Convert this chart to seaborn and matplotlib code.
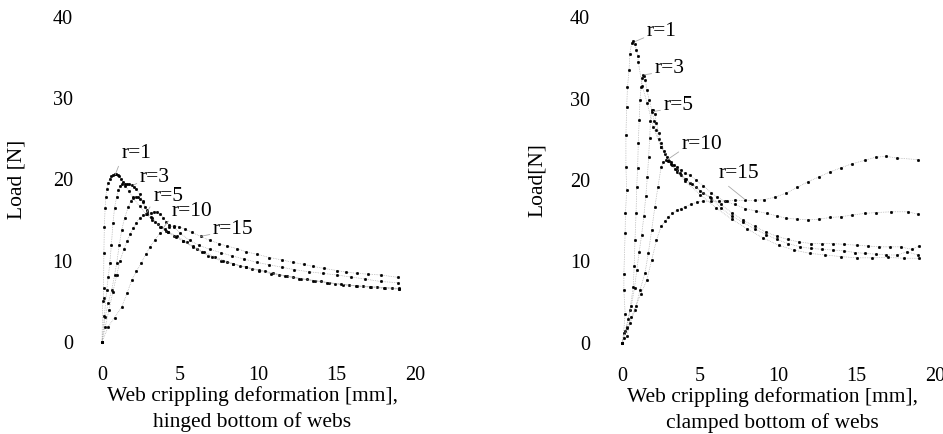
import matplotlib
matplotlib.use("Agg")
import matplotlib.pyplot as plt
import seaborn as sns

# hinged bottom of webs (left panel)
h_r1_x = [0, 0.05, 0.1, 0.1, 0.12, 0.15, 0.2, 0.25, 0.3, 0.4, 0.5, 0.6, 0.7, 0.8, 0.9, 1.0, 1.1, 1.2, 1.35, 1.5,
          1.7, 2.0, 2.4, 2.8, 3.2, 3.7, 4.2, 4.8, 5.4, 6.1, 6.8, 7.6, 8.4, 9.2, 10.0, 10.9, 11.8, 12.7, 13.6, 14.5,
          15.4, 16.3, 17.2, 18.1, 19.0]
h_r1_y = [0, 5.0, 5.4, 6.6, 11.0, 14.2, 16.5, 17.9, 18.8, 19.6, 20.1, 20.4, 20.6, 20.7, 20.7, 20.6, 20.4, 20.1, 19.7, 19.2,
          18.6, 17.7, 16.7, 15.8, 15.0, 14.2, 13.6, 13.0, 12.3, 11.4, 10.6, 10.0, 9.6, 9.2, 8.9, 8.5, 8.1, 7.8, 7.55, 7.3,
          7.05, 6.9, 6.8, 6.7, 6.55]
h_r3_x = [0, 0.15, 0.3, 0.4, 0.5, 0.6, 0.7, 0.8, 0.94, 1.05, 1.15, 1.3, 1.45, 1.6, 1.75, 1.9, 2.05, 2.2, 2.4, 2.6,
          2.85, 3.2, 3.6, 4.1, 4.6, 5.2, 5.8, 6.5, 7.2, 8.0, 8.8, 9.6, 10.4, 11.3, 12.2, 13.1, 14.0, 14.9, 15.8, 16.7,
          17.6, 18.5, 19.0]
h_r3_y = [0, 3.2, 6.4, 8.0, 9.7, 12.0, 14.6, 16.5, 17.9, 18.7, 19.2, 19.4, 19.5, 19.5, 19.4, 19.3, 19.1, 18.8, 18.2, 17.3,
          16.2, 15.3, 14.5, 13.7, 13.1, 12.4, 11.8, 11.1, 10.5, 9.9, 9.4, 9.0, 8.7, 8.3, 8.0, 7.7, 7.45, 7.2, 7.0, 6.85,
          6.75, 6.65, 6.6]
h_r5_x = [0, 0.2, 0.4, 0.62, 0.8, 0.94, 1.1, 1.26, 1.45, 1.68, 1.85, 2.0, 2.15, 2.3, 2.45, 2.6, 2.75, 2.9, 3.1, 3.4,
          3.8, 4.2, 4.7, 5.2, 5.8, 6.4, 7.0, 7.7, 8.4, 9.2, 10.0, 10.8, 11.7, 12.6, 13.5, 14.4, 15.3, 16.2, 17.1, 18.0,
          19.0]
h_r5_y = [0, 3.1, 4.8, 6.4, 8.2, 9.7, 11.9, 13.8, 15.3, 16.6, 17.4, 17.8, 17.9, 17.8, 17.6, 17.2, 16.6, 16.0, 15.4, 14.8,
          14.1, 13.5, 12.9, 12.4, 11.7, 11.1, 10.5, 10.0, 9.6, 9.2, 8.8, 8.4, 8.1, 7.8, 7.55, 7.3, 7.1, 6.9, 6.75, 6.6,
          6.5]
h_r10_x = [0, 0.2, 0.45, 0.7, 0.95, 1.15, 1.4, 1.6, 1.8, 2.0, 2.2, 2.4, 2.65, 2.9, 3.1, 3.3, 3.5, 3.7, 3.9, 4.1,
           4.3, 4.6, 5.0, 5.6, 6.2, 6.9, 7.6, 8.3, 9.1, 9.9, 10.7, 11.5, 12.3, 13.2, 14.1, 15.0, 15.9, 16.8, 17.8, 18.9]
h_r10_y = [0, 1.8, 4.0, 6.2, 8.3, 10.0, 11.4, 12.4, 13.3, 14.0, 14.7, 15.3, 15.6, 15.8, 15.9, 16.0, 16.0, 15.8, 15.3, 14.8,
           14.4, 14.1, 13.4, 12.5, 11.9, 11.4, 11.0, 10.6, 10.2, 9.8, 9.5, 9.2, 8.9, 8.65, 8.45, 8.25, 8.0, 7.75, 7.45, 7.3]
h_r15_x = [0, 0.4, 0.8, 1.26, 1.6, 1.9, 2.2, 2.5, 2.8, 3.07, 3.4, 3.7, 4.0, 4.3, 4.6, 4.9, 5.3, 5.73, 6.3, 6.9,
           7.5, 8.0, 8.6, 9.2, 9.9, 10.7, 11.5, 12.2, 12.9, 13.5, 14.2, 15.0, 15.6, 16.3, 17.0, 17.8, 18.9]
h_r15_y = [0, 1.9, 3.0, 4.3, 6.0, 7.6, 8.7, 9.7, 10.8, 11.7, 12.6, 13.4, 13.9, 14.2, 14.3, 14.2, 13.9, 13.5, 13.0, 12.5,
           12.1, 11.8, 11.5, 11.1, 10.8, 10.4, 10.1, 9.8, 9.55, 9.3, 9.05, 8.8, 8.6, 8.45, 8.35, 8.25, 7.96]

# clamped bottom of webs (right panel)
c_r1_x = [0, 0.1, 0.2, 0.12, 0.12, 0.2, 0.22, 0.3, 0.25, 0.25, 0.3, 0.35, 0.45, 0.5, 0.62, 0.72, 0.82, 0.92, 1.0, 1.04,
          1.3, 1.6, 2.0, 2.5, 3.0, 3.5, 4.0, 5.0, 6.0, 7.0, 8.0, 9.0, 10.0, 11.0, 12.0, 13.0, 14.0, 15.0, 16.0, 17.0,
          18.0, 19.0]
c_r1_y = [0, 1.2, 3.6, 6.5, 8.5, 13.5, 15.9, 18.8, 21.6, 25.5, 29.0, 31.4, 33.5, 35.5, 36.8, 37.0, 36.7, 36.0, 35.2, 34.5,
          31.5, 29.5, 26.5, 24.0, 22.3, 21.0, 19.9, 18.2, 16.6, 15.2, 14.0, 12.9, 12.0, 11.4, 11.0, 10.8, 10.6, 10.45,
          10.45, 10.5, 10.4, 10.4]
c_r3_x = [0, 0.3, 0.5, 0.72, 0.78, 0.83, 0.9, 0.94, 1.0, 1.04, 1.1, 1.15, 1.22, 1.3, 1.36, 1.42, 1.5, 1.58, 1.75, 1.9,
          2.05, 2.2, 2.35, 2.5, 2.75, 2.96, 3.2, 3.5, 3.75, 4.0, 4.35, 4.7, 5.2, 5.7, 6.3, 7.0, 7.7, 8.5, 9.2, 9.9,
          10.6, 11.4, 12.1, 12.8, 13.5, 14.2, 14.9, 15.5, 16.2, 16.9, 17.6, 18.2, 18.9]
c_r3_y = [0, 2.0, 4.0, 6.9, 9.5, 12.6, 16.0, 19.2, 21.5, 24.5, 27.4, 29.8, 31.4, 32.5, 32.9, 32.8, 32.3, 31.0, 29.8, 28.6,
          27.3, 26.1, 25.0, 24.1, 23.2, 22.4, 21.9, 21.2, 20.6, 20.1, 19.6, 19.1, 18.4, 17.8, 16.6, 15.6, 14.8, 14.0,
          13.3, 12.7, 12.2, 11.8, 11.6, 11.5, 11.4, 11.3, 11.1, 11.0, 10.9, 10.8, 10.8, 11.2, 10.8]
c_r5_x = [0, 0.2, 0.4, 0.6, 0.8, 0.95, 1.1, 1.25, 1.4, 1.52, 1.62, 1.7, 1.77, 1.82, 1.9, 2.0, 2.1, 2.2, 2.35, 2.5,
          2.7, 2.9, 3.1, 3.4, 3.7, 4.1, 4.5, 5.0, 5.6, 6.3, 7.0, 7.7, 8.5, 9.2, 9.9, 10.6, 11.3, 12.1, 12.8, 13.5,
          14.2, 15.0, 15.7, 16.4, 17.1, 17.8, 18.5, 19.0]
c_r5_y = [0, 1.5, 3.0, 4.6, 6.8, 9.0, 11.2, 13.2, 15.6, 18.0, 20.4, 22.8, 25.2, 27.3, 28.4, 28.6, 28.1, 27.0, 25.8, 24.6,
          23.6, 22.8, 22.2, 21.4, 20.8, 20.1, 19.5, 18.7, 17.9, 17.0, 16.0, 15.1, 14.3, 13.6, 13.1, 12.7, 12.4, 12.2,
          12.2, 12.2, 12.1, 12.0, 11.9, 11.8, 11.8, 11.8, 11.5, 11.9]
c_r10_x = [0, 0.3, 0.5, 0.83, 1.15, 1.47, 1.68, 1.9, 2.1, 2.3, 2.5, 2.65, 2.8, 2.95, 3.1, 3.3, 3.5, 3.75, 4.0, 4.35,
           4.7, 5.2, 5.7, 6.1, 6.55, 7.2, 7.86, 8.55, 9.25, 9.9, 10.5, 11.2, 11.9, 12.6, 13.3, 14.0, 14.7, 15.5, 16.2,
           17.2, 18.3, 18.9]
c_r10_y = [0, 0.8, 2.4, 4.0, 6.5, 8.6, 11.0, 13.9, 16.7, 19.2, 21.6, 22.2, 22.4, 22.3, 22.0, 21.9, 21.6, 21.2, 20.8, 20.6,
           20.0, 19.3, 18.4, 17.9, 17.4, 17.0, 16.5, 16.2, 15.9, 15.6, 15.3, 15.2, 15.1, 15.2, 15.4, 15.5, 15.7, 15.9,
           16.0, 16.1, 16.1, 15.8]
c_r15_x = [0, 0.1, 0.3, 0.6, 0.9, 1.2, 1.58, 1.9, 2.2, 2.5, 2.75, 2.96, 3.2, 3.5, 3.75, 4.0, 4.4, 4.8, 5.2, 5.7,
           6.2, 6.7, 7.2, 7.86, 8.5, 9.1, 9.8, 10.5, 11.2, 11.9, 12.6, 13.3, 14.0, 14.7, 15.5, 16.2, 16.9, 17.55, 18.9]
c_r15_y = [0, 0.6, 1.8, 3.2, 4.6, 6.0, 7.7, 10.2, 12.6, 14.3, 15.0, 15.5, 15.9, 16.3, 16.5, 16.7, 17.0, 17.3, 17.4, 17.4,
           17.4, 17.4, 17.5, 17.5, 17.5, 17.6, 17.9, 18.4, 19.1, 19.8, 20.4, 21.0, 21.5, 22.0, 22.4, 22.8, 22.9, 22.7,
           22.5]

r_labels = ["r=1", "r=3", "r=5", "r=10", "r=15"]
x_ticks = [0, 5, 10, 15, 20]
y_ticks = [0, 10, 20, 30, 40]

hinged = [(h_r1_x, h_r1_y), (h_r3_x, h_r3_y), (h_r5_x, h_r5_y), (h_r10_x, h_r10_y), (h_r15_x, h_r15_y)]
clamped = [(c_r1_x, c_r1_y), (c_r3_x, c_r3_y), (c_r5_x, c_r5_y), (c_r10_x, c_r10_y), (c_r15_x, c_r15_y)]

# label text anchor and leader-line target, in data units
hinged_tags = [((1.25, 23.2), (0.85, 20.6)), ((2.43, 20.3), (2.0, 19.3)), ((3.28, 17.9), (2.85, 15.9)),
               ((4.45, 16.0), (3.9, 14.0)), ((7.1, 13.9), (6.3, 13.0))]
clamped_tags = [((1.6, 38.2), (0.85, 37.0)), ((2.1, 33.7), (1.4, 32.9)), ((2.66, 29.2), (2.0, 28.4)),
                ((3.83, 24.3), (2.9, 22.5)), ((6.17, 20.8), (7.86, 17.6))]

sns.set_theme(style="white")
plt.rcParams["font.family"] = ["Liberation Serif", "DejaVu Serif"]
plt.rcParams["text.color"] = "black"
plt.rcParams["axes.labelcolor"] = "black"
FS = 14.5
LFS = 15.5

fig = plt.figure(figsize=(9.43, 4.34), dpi=100)
ax_l = fig.add_axes([102 / 943, 92 / 434, 313 / 943, 325 / 434])
ax_r = fig.add_axes([622 / 943, 91 / 434, 313 / 943, 326 / 434])


def draw_panel(ax, curves, tags, ylabel, xlabel, ypad):
    for (xs, ys) in curves:
        sns.lineplot(x=xs, y=ys, ax=ax, sort=False, estimator=None, color="#a0a0a0", lw=0.5,
                     linestyle=(0, (1, 1.5)), marker="o", markersize=2.0, markerfacecolor="black",
                     markeredgecolor="black", markeredgewidth=0.2, clip_on=False)
    for lab, (txt, tip) in zip(r_labels, tags):
        ax.annotate(lab, xy=tip, xytext=txt, fontsize=LFS, ha="left", va="center", color="black",
                    arrowprops=dict(arrowstyle="-", color="#a8a8a8", lw=0.6, shrinkA=0, shrinkB=0,
                                    relpos=(0.0, 0.25)))
    ax.axhline(0, color="#c8c8c8", lw=0.6, ls=(0, (1, 6)))
    ax.set_xlim(0, 20)
    ax.set_ylim(0, 40)
    ax.set_xticks(x_ticks)
    ax.set_yticks(y_ticks)
    ax.tick_params(axis="both", length=0, labelsize=FS, colors="black")
    ax.tick_params(axis="x", pad=17)
    ax.tick_params(axis="y", pad=ypad)
    for s in ax.spines.values():
        s.set_visible(False)
    ax.set_ylabel(ylabel, fontsize=LFS)
    ax.yaxis.set_label_coords(-0.24, 0.5)
    ax.set_xlabel(xlabel, fontsize=LFS, linespacing=1.4)
    ax.xaxis.set_label_coords(0.48, -0.135)


draw_panel(ax_l, hinged, hinged_tags, "Load [N]",
           "Web crippling deformation [mm],\nhinged bottom of webs", 21)
draw_panel(ax_r, clamped, clamped_tags, "Load[N]",
           "Web crippling deformation [mm],\nclamped bottom of webs", 23)

fig.savefig("out.png", dpi=100)
